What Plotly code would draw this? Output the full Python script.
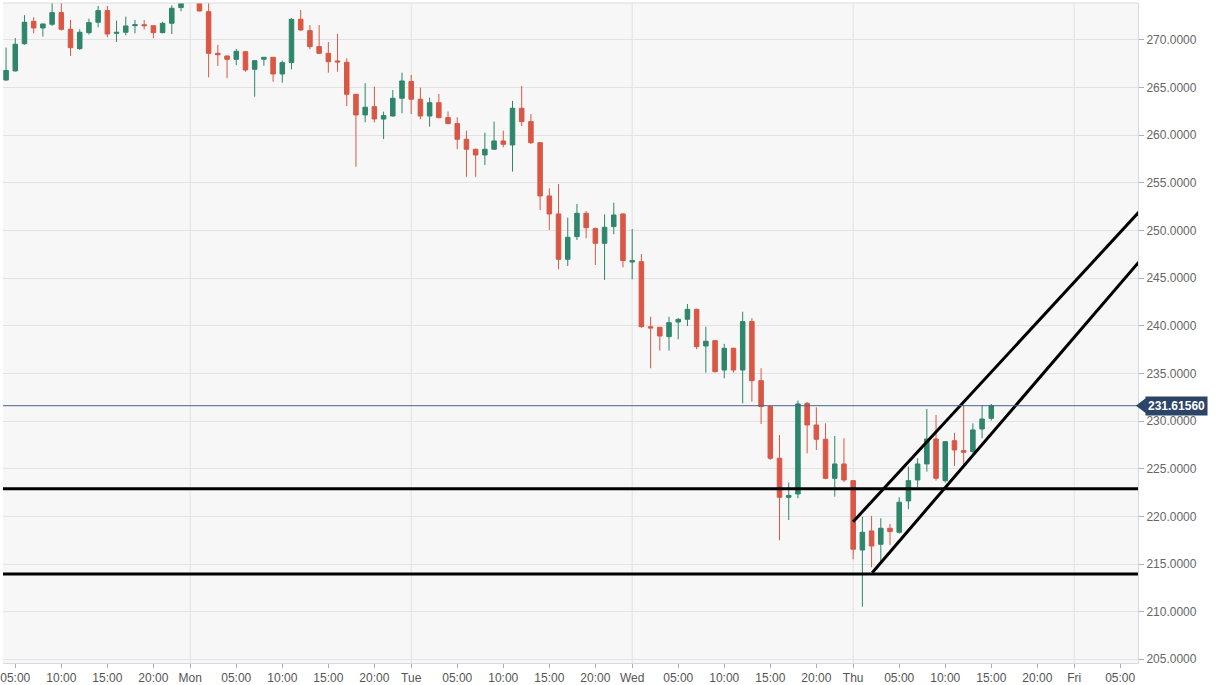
import plotly.graph_objects as go
import pandas as pd

# ---------------- data (hourly candles, Sun 04:00 -> Thu 15:00) ----------------
start_time = "2021-05-16 04:00"
opens = [
    265.8, 266.75, 269.6, 271.96, 271.26, 271.65, 272.87, 271.12, 269.09, 270.77,
    271.86, 273.08, 270.7, 270.81, 271.5, 271.6, 271.5, 270.77, 271.75, 273.4,
    274.2, 274.6, 272.97, 268.6, 268.32, 267.97, 268.77, 266.92, 267.98, 268.18,
    266.43, 267.62, 272.17, 270.98, 269.3, 268.6, 267.8, 267.66, 264.3, 262.13,
    263.0, 261.7, 262.02, 263.88,
    265.63, 263.78, 262.02, 263.42, 261.85, 261.22, 259.58, 258.53, 257.93, 258.53,
    259.4, 258.98, 262.83, 261.43, 259.22, 253.63, 251.74, 246.98, 249.36, 251.81,
    250.2, 248.66, 250.41, 251.74,
    246.7, 246.73, 239.9, 239.84, 238.86, 240.4, 240.69, 241.73, 237.88, 238.44,
    235.36, 237.64, 235.36, 240.44, 234.24, 231.52, 226.1, 222.0, 222.35, 231.87,
    229.59, 228.09, 223.99, 225.5,
    223.75, 216.47, 218.47, 217.07, 218.75, 218.33, 221.62, 223.82, 225.5, 228.12,
    223.75, 227.94, 226.9, 226.8, 229.17, 230.29,
]
highs = [
    269.2, 270.2, 272.6, 272.38, 271.7, 274.5, 274.6, 272.1, 271.12, 272.24,
    273.57, 273.57, 272.03, 272.45, 272.1, 272.1, 271.55, 271.9, 273.64, 274.5,
    275.2, 275.0, 274.2, 269.48, 268.35, 269.06, 268.85, 267.9, 268.2, 268.2,
    267.83, 272.28, 273.15, 271.57, 271.57, 269.79, 270.63, 268.08, 264.3, 265.46,
    265.1, 262.48, 264.75, 266.57,
    266.33, 265.0, 263.95, 264.33, 262.48, 261.89, 260.48, 258.6, 260.27, 261.43,
    260.48, 263.6, 265.17, 262.23, 259.3, 254.44, 254.89, 251.35, 252.79, 252.05,
    250.3, 251.7, 252.92, 251.8,
    250.16, 247.54, 240.95, 239.9, 240.95, 240.8, 242.29, 241.8, 239.91, 238.5,
    238.1, 237.7, 241.48, 240.8, 235.55, 231.6, 228.54, 223.54, 232.15, 232.0,
    231.45, 229.77, 228.44, 228.2,
    223.8, 219.97, 220.04, 219.8, 219.2, 222.0, 225.22, 226.1, 231.27, 230.64,
    227.9, 228.78, 231.69, 229.77, 231.69, 231.8,
]
lows = [
    265.7, 266.7, 269.5, 270.7, 270.35, 271.47, 270.98, 268.32, 268.95, 270.56,
    271.33, 270.28, 269.79, 270.49, 270.7, 271.1, 270.18, 270.7, 270.63, 273.0,
    274.0, 273.0, 266.08, 267.27, 265.98, 267.38, 266.67, 264.05, 267.3, 265.62,
    265.52, 266.92, 270.95, 269.02, 268.53, 266.57, 266.67, 263.07, 256.7, 261.36,
    261.36, 259.6, 261.95, 262.3,
    262.23, 261.68, 260.9, 261.78, 261.2, 258.53, 255.65, 255.65, 256.88, 258.5,
    258.74, 256.18, 260.97, 259.08, 252.16, 250.06, 245.93, 246.28, 249.01, 249.19,
    246.39, 244.81, 249.61, 246.14,
    244.88, 239.8, 235.55, 237.4, 237.4, 238.59, 239.98, 237.54, 235.08, 235.1,
    234.49, 235.08, 231.87, 232.04, 229.7, 225.92, 217.5, 219.62, 221.9, 226.62,
    226.97, 223.9, 222.07, 223.6,
    215.5, 210.52, 214.66, 215.25, 217.0, 218.2, 220.75, 223.06, 224.69, 223.75,
    223.54, 225.29, 225.5, 226.6, 228.2, 230.05,
]
closes = [
    266.8, 269.55, 271.86, 271.26, 271.68, 272.87, 271.12, 269.19, 270.81, 271.82,
    273.08, 270.63, 270.8, 271.47, 271.6, 271.5, 270.77, 271.75, 273.33, 274.2,
    274.6, 273.04, 268.6, 268.45, 267.97, 268.81, 266.85, 267.83, 268.18, 266.43,
    267.62, 272.17, 271.05, 269.3, 268.6, 267.72, 267.7, 264.3, 262.13, 262.94,
    261.71, 262.06, 263.88, 265.7,
    263.78, 262.02, 263.42, 261.85, 261.22, 259.58, 258.53, 257.93, 258.53, 259.4,
    259.05, 262.83, 261.43, 259.22, 253.63, 251.74, 246.98, 249.29, 251.81, 250.3,
    248.66, 250.34, 251.63, 246.84,
    246.84, 239.91, 239.77, 238.93, 240.33, 240.68, 241.73, 237.81, 238.38, 235.19,
    237.64, 235.36, 240.44, 234.24, 231.52, 226.1, 222.0, 222.2, 231.8, 229.59,
    228.09, 223.99, 225.5, 223.82,
    216.55, 218.33, 216.89, 218.75, 218.4, 221.48, 223.75, 225.5, 228.12, 224.0,
    227.84, 226.97, 226.73, 229.07, 230.22, 231.6156,
]

last_price = 231.6156
support_levels = [222.9, 213.95]
upper_channel_x = ["2021-05-20 00:00", "2021-05-21 08:00"]
upper_channel_y = [219.44, 252.95]
lower_channel_x = ["2021-05-20 02:04", "2021-05-21 08:00"]
lower_channel_y = [214.09, 247.8]

day_names = ["Sun", "Mon", "Tue", "Wed", "Thu", "Fri"]
tick_hours = [0, 5, 10, 15, 20]
x_range = ["2021-05-16 03:40", "2021-05-21 06:56"]
y_range = [204.61, 273.88]

# ---------------- figure ----------------
times = pd.date_range(start_time, periods=len(opens), freq="h")
days = pd.date_range("2021-05-16", periods=len(day_names), freq="D")

tickvals, ticktext = [], []
for name, d in zip(day_names, days):
    for h in tick_hours:
        t = d + pd.Timedelta(hours=h)
        tickvals.append(t)
        ticktext.append(name if h == 0 else f"{h:02d}:00")

GREEN = "#2e866c"
RED = "#d95744"

fig = go.Figure()
fig.add_trace(go.Candlestick(
    x=times, open=opens, high=highs, low=lows, close=closes,
    increasing=dict(line=dict(color=GREEN, width=1), fillcolor=GREEN),
    decreasing=dict(line=dict(color=RED, width=1), fillcolor=RED),
    hoverinfo="skip", showlegend=False,
))
fig.add_trace(go.Scatter(x=upper_channel_x, y=upper_channel_y, mode="lines",
                         line=dict(color="#000000", width=3), hoverinfo="skip", showlegend=False))
fig.add_trace(go.Scatter(x=lower_channel_x, y=lower_channel_y, mode="lines",
                         line=dict(color="#000000", width=3), hoverinfo="skip", showlegend=False))

shapes = []
for d in days[1:]:
    shapes.append(dict(type="line", xref="x", yref="paper", x0=d, x1=d, y0=0, y1=1,
                       line=dict(color="#e2e2e2", width=1), layer="below"))
shapes.append(dict(type="line", xref="paper", yref="paper", x0=0, x1=1, y0=1, y1=1,
                   line=dict(color="#dcdcdc", width=1)))
shapes.append(dict(type="line", xref="paper", yref="y", x0=0, x1=1, y0=last_price, y1=last_price,
                   line=dict(color="#4a6488", width=1)))
for lvl in support_levels:
    shapes.append(dict(type="line", xref="paper", yref="y", x0=0, x1=1, y0=lvl, y1=lvl,
                       line=dict(color="#000000", width=3)))
# price label pointer
shapes.append(dict(type="path", xref="paper", yref="y",
                   path=f"M 0.9982 {last_price} L 1.0070 {last_price + 0.8} L 1.0070 {last_price - 0.8} Z",
                   fillcolor="#2b4468", line=dict(width=0)))

fig.update_layout(
    width=1226, height=685,
    margin=dict(l=0, r=88, t=3, b=22),
    paper_bgcolor="#ffffff",
    plot_bgcolor="#f7f7f7",
    showlegend=False,
    shapes=shapes,
    font=dict(family="Liberation Sans, Arial, sans-serif", size=12, color="#555555"),
    xaxis=dict(
        type="date", range=x_range, rangeslider=dict(visible=False),
        tickvals=tickvals, ticktext=ticktext, showgrid=False, zeroline=False,
        ticks="outside", ticklen=4, tickcolor="#aab0bb", tickfont=dict(size=12, color="#555555"),
        showline=True, linecolor="#d3d9e6", linewidth=1, ticklabeloverflow="allow",
    ),
    yaxis=dict(
        side="right", range=y_range, tick0=205, dtick=5, tickformat=".4f",
        showgrid=True, gridcolor="#e3e3e3", gridwidth=1, zeroline=False,
        ticks="outside", ticklen=5, tickcolor="#aab0bb", tickfont=dict(size=12, color="#666666"),
        showline=True, linecolor="#d3d9e6", linewidth=1,
    ),
    annotations=[dict(
        xref="paper", yref="y", x=1.006, y=last_price, xanchor="left", yanchor="middle",
        text="<b>231.61560</b>", showarrow=False, font=dict(color="#ffffff", size=12),
        bgcolor="#2b4468", borderpad=2,
    )],
)

fig.write_html("out.html", config={"displayModeBar": False},
               post_script="document.body.style.margin='0';document.body.style.overflow='hidden';")
